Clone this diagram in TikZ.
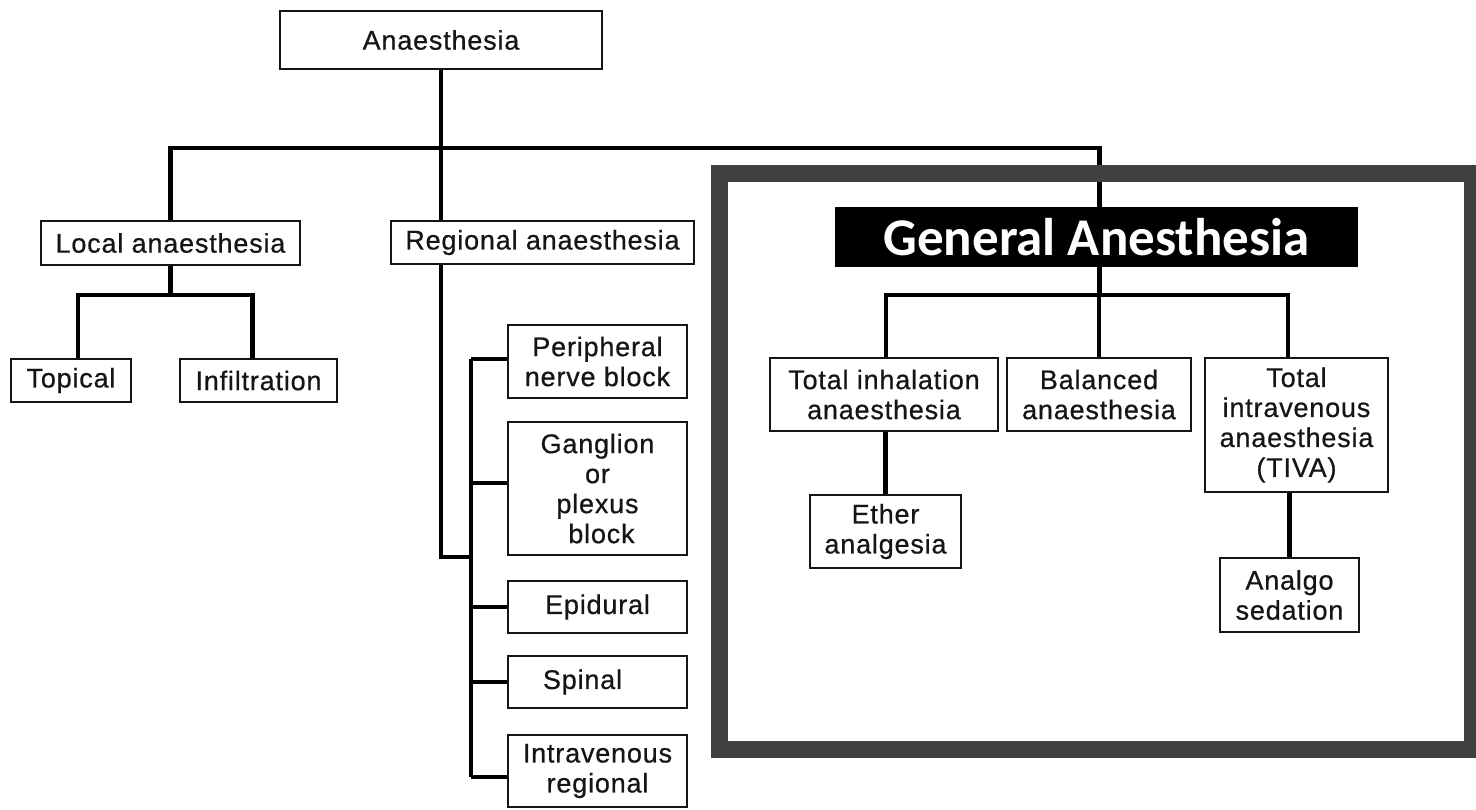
\documentclass[tikz,border=0pt]{standalone}
\usepackage{fontspec}
\setmainfont{Liberation Sans}[LetterSpace=3, FakeBold=0.6]
\newfontfamily\headfont{Carlito}
\definecolor{framegray}{HTML}{414141}
\definecolor{ink}{HTML}{151515}
\begin{document}
\begin{tikzpicture}[x=1pt,y=-1pt,
  bx/.style={draw=ink, line width=2pt, fill=white, inner sep=0pt, align=center,
    font=\fontsize{27}{30}\selectfont, text=ink},
  conn/.style={draw=black, line width=4.5pt, line join=miter},
  gabox/.style={fill=black, inner sep=0pt, text=white,
    font=\headfont\bfseries\fontsize{53}{56}\selectfont}]
\useasboundingbox[fill=white] (0,0) rectangle (1476,810);

% top level
\node[bx, minimum width=322, minimum height=58] (root) at (441,40) {Anaesthesia};
\node[bx, minimum width=259, minimum height=44] (loc) at (170.5,243) {Local anaesthesia};
\node[bx, minimum width=303, minimum height=43] (reg) at (542.5,242.5) {Regional anaesthesia};

% local branch
\node[bx, minimum width=120, minimum height=43] (top) at (71,380.5) {Topical};
\node[bx, minimum width=157, minimum height=43] (inf) at (258.5,380.5) {Infiltration};

% regional branch
\node[bx, minimum width=179, minimum height=73] (per) at (597.5,361.5) {Peripheral\\nerve block};
\node[bx, minimum width=179, minimum height=133] (gang) at (597.5,488.5) {Ganglion\\or\\plexus\\\hspace*{8pt}block};
\node[bx, minimum width=179, minimum height=52] (epi) at (597.5,607) {Epidural};
\node[bx, minimum width=179, minimum height=52] (spi) at (597.5,682) {Spinal\hspace*{30pt}};
\node[bx, minimum width=179, minimum height=72] (ivr) at (597.5,771) {Intravenous\\regional};

% general anaesthesia
\node[gabox, minimum width=523, minimum height=60] (ga) at (1096.5,237) {General Anesthesia};
\node[bx, minimum width=228, minimum height=73] (ti) at (884,394.5) {Total inhalation\\anaesthesia};
\node[bx, minimum width=184, minimum height=73] (bal) at (1099,394.5) {Balanced\\anaesthesia};
\node[bx, minimum width=183, minimum height=134] (tiva) at (1296.5,425) {Total\\intravenous\\anaesthesia\\(TIVA)};
\node[bx, minimum width=151, minimum height=73] (eth) at (885.5,531.5) {Ether\\analgesia};
\node[bx, minimum width=139, minimum height=74] (an) at (1289.5,595) {Analgo\\sedation};

% junction levels
\coordinate (bar) at (0,148);
\coordinate (lbar) at (0,295);
\coordinate (rj) at (471,557);
\coordinate (gbar) at (0,295);

% connectors from the root
\draw[conn] (root.south) -- (root.south |- reg.north);
\draw[conn] (loc.north) |- ([xshift=3pt]bar -| ga.north) -- ([xshift=3pt]ga.north);

% local anaesthesia
\draw[conn] (loc.south) -- (loc.south |- lbar);
\draw[conn] ([xshift=7pt]top.north) |- (loc.south |- lbar) -| ([xshift=-6pt]inf.north);

% regional anaesthesia
\draw[conn] (root.south |- reg.south) |- (rj);
\draw[conn] ([yshift=2.5pt]per.west -| rj) -- ([yshift=-6pt]ivr.west -| rj);
\draw[conn] ([yshift=2.5pt]per.west -| rj) -- ([yshift=2.5pt]per.west);
\draw[conn] ([yshift=5.5pt]gang.west -| rj) -- ([yshift=5.5pt]gang.west);
\draw[conn] (epi.west -| rj) -- (epi.west);
\draw[conn] (spi.west -| rj) -- (spi.west);
\draw[conn] ([yshift=-6pt]ivr.west -| rj) -- ([yshift=-6pt]ivr.west);

% general anaesthesia
\draw[conn] ([xshift=3pt]ga.south) -- ([xshift=3pt]ga.south |- gbar);
\draw[conn] ([xshift=2pt]ti.north) |- (gbar -| ga.south) -| ([xshift=-8.5pt]tiva.north);
\draw[conn] (bal.north) -- (bal.north |- gbar);
\draw[conn] (ti.south -| eth.north) -- (eth.north);
\draw[conn] (tiva.south -| an.north) -- (an.north);

% highlight frame
\draw[framegray, line width=17pt] (719.5,173.5) rectangle (1472.5,749);
\end{tikzpicture}
\end{document}
